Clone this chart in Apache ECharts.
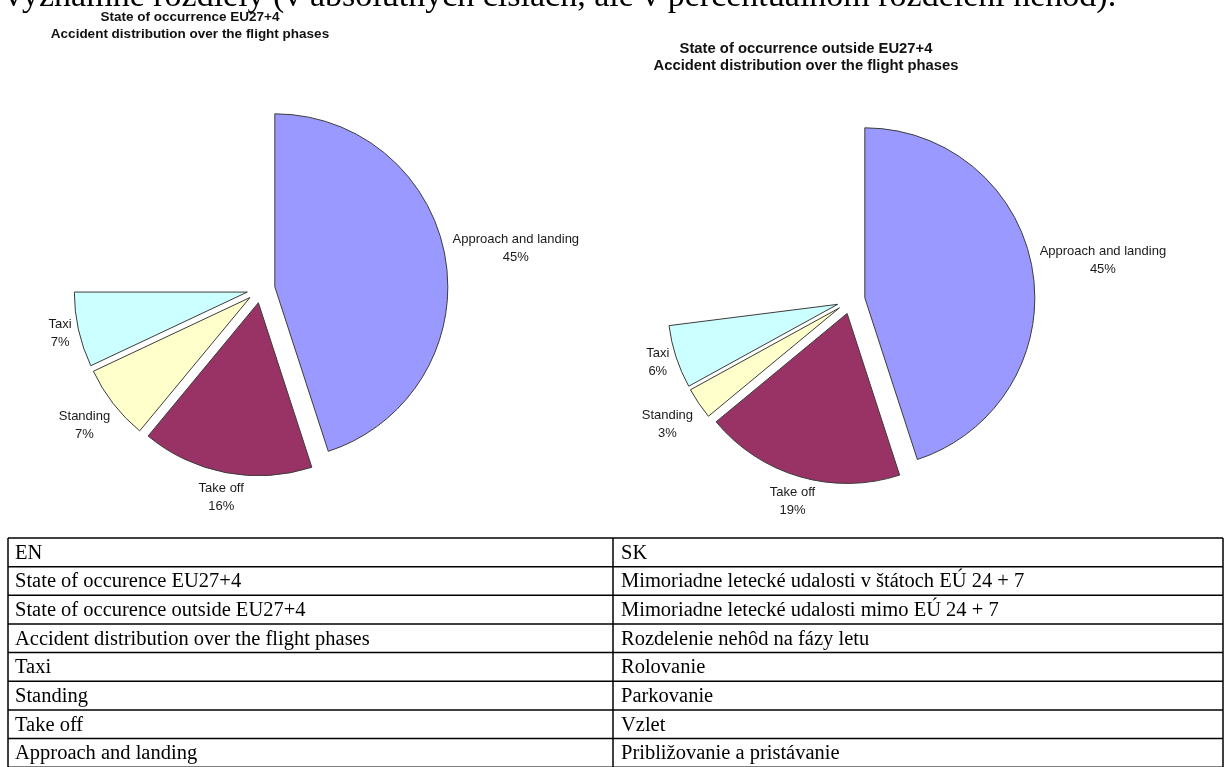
<!DOCTYPE html>
<html>
<head>
<meta charset="utf-8">
<script src="https://cdn.jsdelivr.net/npm/echarts@6/dist/echarts.min.js"></script>
<style>
  html, body { margin: 0; padding: 0; background: #ffffff; }
  #chart { width: 1229px; height: 767px; }
</style>
</head>
<body>
<div id="chart"></div>
<script>
// Flight phases, in clockwise order starting at 12 o'clock
const phases = ['Approach and landing', 'Take off', 'Standing', 'Taxi', 'En route'];
// Share of accidents (%) per phase; the last phase is left blank on both pies
const insideEU = [45, 16, 7, 7, 25];
const outsideEU = [45, 19, 3, 6, 27];

const chartTitles = [
  ['State of occurrence EU27+4', 'Accident distribution over the flight phases'],
  ['State of occurrence outside EU27+4', 'Accident distribution over the flight phases']
];

const introLine = 'významné rozdiely (v absolútnych číslach, ale v percentuálnom rozdelení nehôd).';

// Glossary table below the pies
const glossaryEN = [
  'EN',
  'State of occurence EU27+4',
  'State of occurence outside EU27+4',
  'Accident distribution over the flight phases',
  'Taxi',
  'Standing',
  'Take off',
  'Approach and landing'
];
const glossarySK = [
  'SK',
  'Mimoriadne letecké udalosti v štátoch EÚ 24 + 7',
  'Mimoriadne letecké udalosti mimo EÚ 24 + 7',
  'Rozdelenie nehôd na fázy letu',
  'Rolovanie',
  'Parkovanie',
  'Vzlet',
  'Približovanie a pristávanie'
];

// ---- styling / layout ----
const phaseColors = ['#9999FF', '#993366', '#FFFFCC', '#CCFFFF', 'rgba(0,0,0,0)'];
const OUTLINE = '#3c3c3c';
const EXPLODE = 14;        // every visible slice is pulled out from the centre
const LABEL_GAP = 7;
const LABEL_FONT = 13;
const LABEL_LINE_H = 18;
const pies = [
  { center: [261, 289], radius: 173, values: insideEU, titleX: 190, titleY: [17, 34], titleSize: 13.5 },
  { center: [851, 300], radius: 170, values: outsideEU, titleX: 806, titleY: [49, 66], titleSize: 14.8 }
];
const table = { left: 8, mid: 613, right: 1223, top: 538, rowH: 28.65, padL: 7, padR: 8 };

const isBlank = i => i === phases.length - 1;
const pctText = (p) => p.name + '\n' + Math.round(p.percent) + '%';

const measureCtx = document.createElement('canvas').getContext('2d');
function labelBox(text) {
  measureCtx.font = LABEL_FONT + 'px "Liberation Sans"';
  const lines = String(text).split('\n');
  const w = Math.max.apply(null, lines.map(l => measureCtx.measureText(l).width));
  return { w: w, h: lines.length * LABEL_LINE_H };
}

// Places each label just outside its (pulled-out) slice, centred on the slice
// bisector, with the label box touching the circle like an "outside end" label.
function outsideEndLabel(values, center, radius) {
  const total = values.reduce((a, b) => a + b, 0);
  return function (p) {
    const i = p.dataIndex;
    let before = 0;
    for (let j = 0; j < i; j++) before += values[j];
    const mid = (before + values[i] / 2) / total * 2 * Math.PI;
    const dx = Math.sin(mid), dy = -Math.cos(mid);
    const text = p.text || (phases[i] + '\n' + Math.round(values[i] / total * 100) + '%');
    const box = labelBox(text);
    const t = Math.min(box.w / 2 / Math.max(Math.abs(dx), 1e-6), box.h / 2 / Math.max(Math.abs(dy), 1e-6));
    const d = radius + EXPLODE + LABEL_GAP + t;
    return { x: center[0] + dx * d, y: center[1] + dy * d, align: 'center', verticalAlign: 'middle' };
  };
}

// Slices: every visible phase is drawn selected, i.e. pulled out of the pie.
function sliceSeries(cfg) {
  return {
    type: 'pie',
    center: cfg.center,
    radius: cfg.radius,
    startAngle: 90,
    clockwise: true,
    selectedMode: 'multiple',
    selectedOffset: EXPLODE,
    animation: false,
    silent: true,
    label: { show: false },
    labelLine: { show: false },
    data: cfg.values.map((v, i) => {
      const style = isBlank(i)
        ? { color: phaseColors[i], borderWidth: 0 }
        : { color: phaseColors[i], borderColor: OUTLINE, borderWidth: 1 };
      return { name: phases[i], value: v, selected: !isBlank(i), itemStyle: style, select: { itemStyle: style } };
    })
  };
}

// Labels: same data on an unfilled pie, so the labels can be laid out freely.
function labelSeries(cfg) {
  return {
    type: 'pie',
    center: cfg.center,
    radius: cfg.radius,
    startAngle: 90,
    clockwise: true,
    selectedMode: false,
    avoidLabelOverlap: false,
    animation: false,
    silent: true,
    z: 3,
    itemStyle: { color: 'rgba(0,0,0,0)', borderWidth: 0 },
    label: {
      show: true,
      position: 'outside',
      formatter: pctText,
      fontFamily: 'Liberation Sans',
      fontSize: LABEL_FONT,
      lineHeight: LABEL_LINE_H,
      color: '#1a1a1a',
      align: 'center'
    },
    labelLine: { show: false },
    labelLayout: outsideEndLabel(cfg.values, cfg.center, cfg.radius),
    data: cfg.values.map((v, i) => ({ name: phases[i], value: v, label: { show: !isBlank(i) } }))
  };
}

// ---- graphic: intro line, titles, glossary table ----
const graphics = [];

graphics.push({
  type: 'text', x: 5, y: -3, silent: true,
  style: { text: introLine, font: '34px "Liberation Serif"', fill: '#000', align: 'left', verticalAlign: 'middle' }
});

pies.forEach((cfg, k) => {
  chartTitles[k].forEach((line, i) => {
    graphics.push({
      type: 'text', x: cfg.titleX, y: cfg.titleY[i], silent: true,
      style: { text: line, font: 'bold ' + cfg.titleSize + 'px "Liberation Sans"', fill: '#111', align: 'center', verticalAlign: 'middle' }
    });
  });
});

const nRows = glossaryEN.length;
for (let r = 0; r <= nRows; r++) {
  const y = table.top + r * table.rowH;
  graphics.push({ type: 'line', silent: true, shape: { x1: table.left, y1: y, x2: table.right, y2: y }, style: { stroke: '#000', lineWidth: 1.5 } });
}
const tableBottom = table.top + nRows * table.rowH;
[table.left, table.mid, table.right].forEach(x => {
  graphics.push({ type: 'line', silent: true, shape: { x1: x, y1: table.top, x2: x, y2: tableBottom }, style: { stroke: '#000', lineWidth: 1.5 } });
});
for (let r = 0; r < nRows; r++) {
  const yc = table.top + (r + 0.5) * table.rowH + 1;
  graphics.push({ type: 'text', x: table.left + table.padL, y: yc, silent: true,
    style: { text: glossaryEN[r], font: '20.5px "Liberation Serif"', fill: '#000', align: 'left', verticalAlign: 'middle' } });
  graphics.push({ type: 'text', x: table.mid + table.padR, y: yc, silent: true,
    style: { text: glossarySK[r], font: '20.5px "Liberation Serif"', fill: '#000', align: 'left', verticalAlign: 'middle' } });
}

const chart = echarts.init(document.getElementById('chart'), null, { renderer: 'canvas' });
chart.setOption({
  backgroundColor: '#ffffff',
  animation: false,
  series: pies.map(sliceSeries).concat(pies.map(labelSeries)),
  graphic: { elements: graphics }
});
</script>
</body>
</html>
